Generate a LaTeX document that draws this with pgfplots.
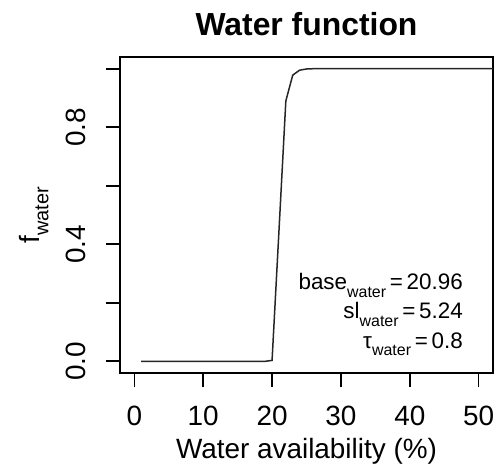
\documentclass[border=0pt]{standalone}
\usepackage{fontspec}
\setmainfont{Liberation Sans}
\usepackage{pgfplots}
\pgfplotsset{compat=1.18}

% response curve of the water function
\pgfplotstableread{
x f
1 0
2 0
3 0
4 0
5 0
6 0
7 0
8 0
9 0
10 0
11 0
12 0
13 0
14 0
15 0
16 0
17 0
18 0
19 0
20 0.003
21 0.445
22 0.89
23 0.978
24 0.995
25 0.999
26 1
30 1
40 1
50 1
60 1
}\waterdata

\newcommand{\sub}[2]{#1\raisebox{-0.32em}{\fontsize{#2}{#2}\selectfont water}}

\begin{document}
\begin{tikzpicture}
\useasboundingbox (-120bp,-95bp) rectangle (380bp,373bp);
\begin{axis}[
  at={(0,0)}, anchor=south west,
  scale only axis, width=373bp, height=316bp,
  xmin=-2.08, xmax=52.08, ymin=-0.04, ymax=1.04,
  clip=true,
  axis line style={line width=1.6bp, black},
  tick style={line width=1.6bp, black},
  tick align=outside, major tick length=14bp,
  xtick={0,10,20,30,40,50},
  ytick={0,0.2,0.4,0.6,0.8,1.0},
  yticklabels={0.0,,0.4,,0.8,},
  xtick pos=bottom, ytick pos=left,
  /pgf/number format/assume math mode=true,
  ticklabel style={font=\fontsize{28}{28}\selectfont},
  xticklabel style={anchor=base, yshift=-38bp},
  yticklabel style={rotate=90, anchor=base, yshift=20bp},
  title={\textbf{Water function}},
  title style={font=\fontsize{32}{32}\selectfont, at={(rel axis cs:0.5,1)}, anchor=base, yshift=16bp},
  xlabel={Water availability (\%)},
  xlabel style={font=\fontsize{28}{28}\selectfont, at={(rel axis cs:0.5,0)}, anchor=base, yshift=-85bp},
  ylabel={\sub{f}{20}},
  ylabel style={font=\fontsize{28}{28}\selectfont, at={(rel axis cs:0,0.5)}, anchor=center, yshift=86bp},
]
\addplot[line width=1.5bp, black!85, no marks] table[x=x, y=f] {\waterdata};
\end{axis}
\begin{scope}[font=\fontsize{22.5}{22.5}\selectfont]
\node[anchor=base east, inner sep=0pt] at (343bp,83bp) {\sub{base}{16}\,=\,20.96};
\node[anchor=base east, inner sep=0pt] at (343bp,54bp) {\sub{sl}{16}\,=\,5.24};
\node[anchor=base east, inner sep=0pt] at (343bp,25bp) {\sub{τ}{16}\,=\,0.8};
\end{scope}
\end{tikzpicture}
\end{document}
